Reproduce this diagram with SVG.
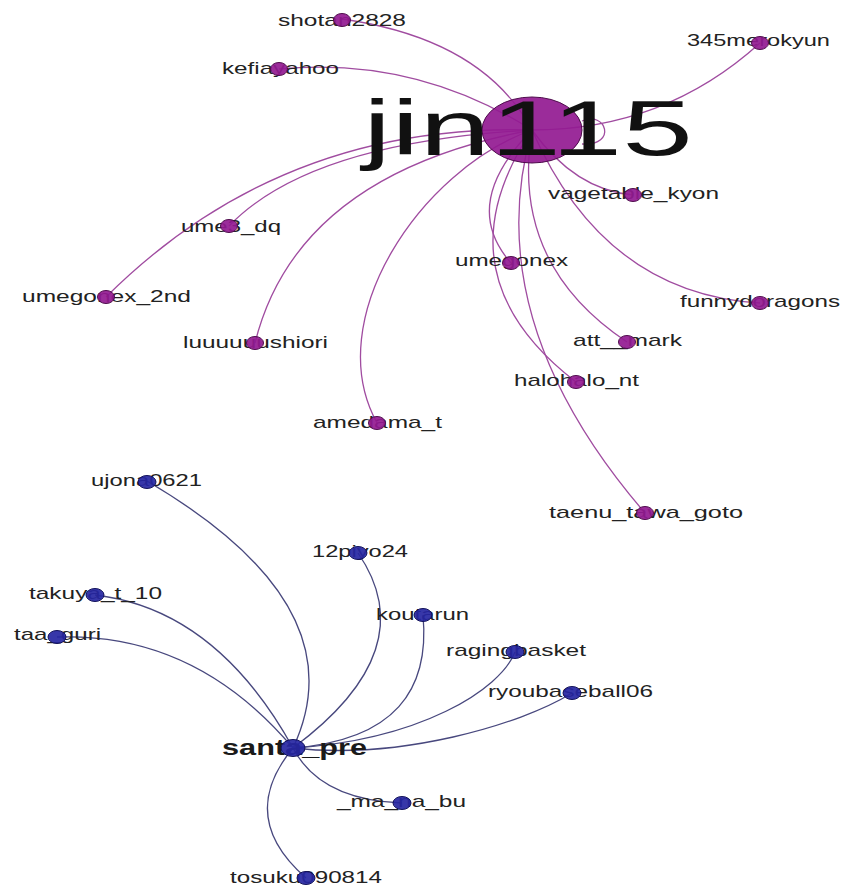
<svg xmlns="http://www.w3.org/2000/svg" width="843" height="887" viewBox="0 0 843 887">
  <style>
    .bg { fill: #ffffff; }
    .ep { fill: none; stroke: #a04ca0; stroke-width: 1.3; }
    .eb { fill: none; stroke: #48487e; stroke-width: 1.3; }
    .np { fill: #931a91; stroke: #4e0c4c; stroke-width: 1; fill-opacity: 0.92; }
    .nb { fill: #2626a2; stroke: #12125a; stroke-width: 1; fill-opacity: 0.92; }
    .lbl { font-family: "Liberation Sans", Arial, sans-serif; font-size: 17px; fill: #222222; }
    .hub { font-family: "Liberation Sans", Arial, sans-serif; font-size: 22px; font-weight: bold; fill: #1a1a1a; }
    .big { font-family: "Liberation Sans", Arial, sans-serif; font-size: 77px; fill: #111111; }
  </style>
  <rect class="bg" x="0" y="0" width="843" height="887"/>

  <!-- connectors -->
  <g id="edges">
    <!-- jin115 cluster -->
    <path class="ep" d="M532,130 Q483,39 342,19"/>
    <path class="ep" d="M532,130 Q415,56 279,69"/>
    <path class="ep" d="M532,130 Q664,130 760,43"/>
    <path class="ep" d="M582,121 C606,110 618,146 582,144"/>
    <path class="ep" d="M532,130 Q575,190 633,195"/>
    <path class="ep" d="M532,130 Q604,294 760,303"/>
    <path class="ep" d="M532,130 Q459,204 511,263"/>
    <path class="ep" d="M532,130 Q510,264 627,342"/>
    <path class="ep" d="M532,130 Q436,274 576,382"/>
    <path class="ep" d="M532,130 Q478,319 645,513"/>
    <path class="ep" d="M532,130 Q281,123 106,297"/>
    <path class="ep" d="M532,130 Q310,142 229,226"/>
    <path class="ep" d="M532,130 Q297,174 255,343"/>
    <path class="ep" d="M532,130 C420,170 320,320 377,423"/>
    <!-- santa_pre cluster -->
    <path class="eb" d="M147,481 Q360,606 293,748"/>
    <path class="eb" d="M95,595 Q216,609 293,748"/>
    <path class="eb" d="M57,637 Q195,632 293,748"/>
    <path class="eb" d="M358,553 Q425,650 293,748"/>
    <path class="eb" d="M423,615 C430,690 395,740 293,748"/>
    <path class="eb" d="M515,652 C500,690 420,740 293,748"/>
    <path class="eb" d="M572,693 C520,725 400,760 293,748"/>
    <path class="eb" d="M293,748 Q320,800 402,803"/>
    <path class="eb" d="M293,748 Q236,817 306,878"/>
  </g>

  <!-- jin115 cluster nodes -->
  <g id="jin115">
    <ellipse class="np" cx="532" cy="130" rx="50" ry="33"/>
    <text class="big" x="363" y="155" textLength="330" lengthAdjust="spacingAndGlyphs">jin115</text>
  </g>
  <g id="shotan2828">
    <text class="lbl" x="278" y="26" textLength="128" lengthAdjust="spacingAndGlyphs">shotan2828</text>
    <ellipse class="np" cx="342" cy="20" rx="8.5" ry="6.5"/>
  </g>
  <g id="kefiayahoo">
    <text class="lbl" x="222" y="74" textLength="117" lengthAdjust="spacingAndGlyphs">kefiayahoo</text>
    <ellipse class="np" cx="279" cy="69" rx="8.5" ry="6.5"/>
  </g>
  <g id="n345merokyun">
    <text class="lbl" x="687" y="46" textLength="143" lengthAdjust="spacingAndGlyphs">345merokyun</text>
    <ellipse class="np" cx="760" cy="43" rx="8.5" ry="6.5"/>
  </g>
  <g id="vagetable_kyon">
    <text class="lbl" x="548" y="199" textLength="171" lengthAdjust="spacingAndGlyphs">vagetable_kyon</text>
    <ellipse class="np" cx="633" cy="195" rx="8.5" ry="6.5"/>
  </g>
  <g id="umegonex">
    <text class="lbl" x="455" y="266" textLength="113" lengthAdjust="spacingAndGlyphs">umegonex</text>
    <ellipse class="np" cx="511" cy="263" rx="8.5" ry="6.5"/>
  </g>
  <g id="funnydoragons">
    <text class="lbl" x="680" y="307" textLength="160" lengthAdjust="spacingAndGlyphs">funnydoragons</text>
    <ellipse class="np" cx="760" cy="303" rx="8.5" ry="6.5"/>
  </g>
  <g id="att__mark">
    <text class="lbl" x="573" y="346" textLength="109" lengthAdjust="spacingAndGlyphs">att__mark</text>
    <ellipse class="np" cx="627" cy="342" rx="8.5" ry="6.5"/>
  </g>
  <g id="halohalo_nt">
    <text class="lbl" x="514" y="386" textLength="125" lengthAdjust="spacingAndGlyphs">halohalo_nt</text>
    <ellipse class="np" cx="576" cy="382" rx="8.5" ry="6.5"/>
  </g>
  <g id="ume3_dq">
    <text class="lbl" x="181" y="232" textLength="100" lengthAdjust="spacingAndGlyphs">ume3_dq</text>
    <ellipse class="np" cx="229" cy="226" rx="8.5" ry="6.5"/>
  </g>
  <g id="umegonex_2nd">
    <text class="lbl" x="22" y="302" textLength="169" lengthAdjust="spacingAndGlyphs">umegonex_2nd</text>
    <ellipse class="np" cx="106" cy="297" rx="8.5" ry="6.5"/>
  </g>
  <g id="luuuuuushiori">
    <text class="lbl" x="183" y="348" textLength="145" lengthAdjust="spacingAndGlyphs">luuuuuushiori</text>
    <ellipse class="np" cx="255" cy="343" rx="8.5" ry="6.5"/>
  </g>
  <g id="amedama_t">
    <text class="lbl" x="313" y="428" textLength="129" lengthAdjust="spacingAndGlyphs">amedama_t</text>
    <ellipse class="np" cx="377" cy="423" rx="8.5" ry="6.5"/>
  </g>
  <g id="taenu_tawa_goto">
    <text class="lbl" x="549" y="518" textLength="194" lengthAdjust="spacingAndGlyphs">taenu_tawa_goto</text>
    <ellipse class="np" cx="645" cy="513" rx="8.5" ry="6.5"/>
  </g>

  <!-- santa_pre cluster nodes -->
  <g id="santa_pre">
    <text class="hub" x="222" y="755" textLength="145" lengthAdjust="spacingAndGlyphs">santa_pre</text>
    <ellipse class="nb" cx="293" cy="748" rx="12" ry="8.5"/>
  </g>
  <g id="ujona0621">
    <text class="lbl" x="91" y="486" textLength="111" lengthAdjust="spacingAndGlyphs">ujona0621</text>
    <ellipse class="nb" cx="147" cy="482" rx="9" ry="6.5"/>
  </g>
  <g id="n12piyo24">
    <text class="lbl" x="312" y="557" textLength="96" lengthAdjust="spacingAndGlyphs">12piyo24</text>
    <ellipse class="nb" cx="358" cy="553" rx="9" ry="6.5"/>
  </g>
  <g id="takuya_t_10">
    <text class="lbl" x="29" y="599" textLength="133" lengthAdjust="spacingAndGlyphs">takuya_t_10</text>
    <ellipse class="nb" cx="95" cy="595" rx="9" ry="6.5"/>
  </g>
  <g id="taa_guri">
    <text class="lbl" x="14" y="640" textLength="87" lengthAdjust="spacingAndGlyphs">taa_guri</text>
    <ellipse class="nb" cx="57" cy="637" rx="9" ry="6.5"/>
  </g>
  <g id="koutarun">
    <text class="lbl" x="376" y="620" textLength="93" lengthAdjust="spacingAndGlyphs">koutarun</text>
    <ellipse class="nb" cx="423" cy="615" rx="9" ry="6.5"/>
  </g>
  <g id="ragingbasket">
    <text class="lbl" x="446" y="656" textLength="140" lengthAdjust="spacingAndGlyphs">ragingbasket</text>
    <ellipse class="nb" cx="515" cy="652" rx="9" ry="6.5"/>
  </g>
  <g id="ryoubaseball06">
    <text class="lbl" x="488" y="697" textLength="165" lengthAdjust="spacingAndGlyphs">ryoubaseball06</text>
    <ellipse class="nb" cx="572" cy="693" rx="9" ry="6.5"/>
  </g>
  <g id="_ma_na_bu">
    <text class="lbl" x="337" y="807" textLength="129" lengthAdjust="spacingAndGlyphs">_ma_na_bu</text>
    <ellipse class="nb" cx="402" cy="803" rx="9" ry="6.5"/>
  </g>
  <g id="tosuku090814">
    <text class="lbl" x="230" y="883" textLength="152" lengthAdjust="spacingAndGlyphs">tosuku090814</text>
    <ellipse class="nb" cx="306" cy="878" rx="9" ry="6.5"/>
  </g>
</svg>
